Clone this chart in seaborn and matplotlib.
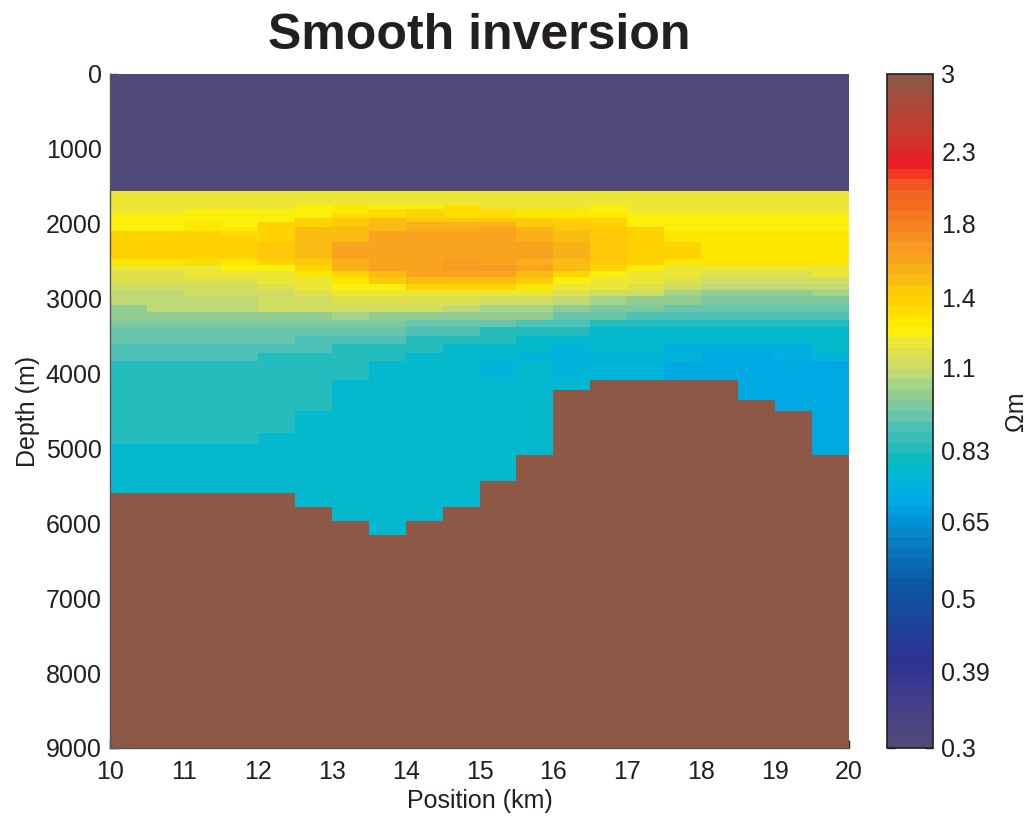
import numpy as np
import matplotlib
matplotlib.use("Agg")
import matplotlib.pyplot as plt
import seaborn as sns
from matplotlib.colors import LinearSegmentedColormap

# Model mesh: 20 columns of 0.5 km between 10 and 20 km
position_ticks_km = [10, 11, 12, 13, 14, 15, 16, 17, 18, 19, 20]
depth_ticks_m = [0, 1000, 2000, 3000, 4000, 5000, 6000, 7000, 8000, 9000]

# layer edges (m), water on top, basement at the bottom
depth_edges_m = [0, 1560, 1700, 1750, 1800, 1850, 1920, 1985, 2040, 2105, 2170,
                 2240, 2350, 2470, 2550, 2630, 2710, 2800, 2885, 2975, 3080,
                 3180, 3280, 3380, 3500, 3605, 3725, 3830, 3965, 4085, 4220,
                 4350, 4500, 4645, 4795, 4940, 5095, 5260, 5435, 5605, 5780,
                 5970, 6165, 9000]

# resistivity (ohm-m) per layer (rows) and column (left to right)
rho = [
    [0.30, 0.30, 0.30, 0.30, 0.30, 0.30, 0.30, 0.30, 0.30, 0.30, 0.30, 0.30, 0.30, 0.30, 0.30, 0.30, 0.30, 0.30, 0.30, 0.30],
    [1.19, 1.19, 1.19, 1.19, 1.19, 1.19, 1.19, 1.19, 1.19, 1.19, 1.19, 1.19, 1.19, 1.19, 1.19, 1.19, 1.19, 1.19, 1.19, 1.19],
    [1.20, 1.20, 1.20, 1.20, 1.22, 1.22, 1.22, 1.22, 1.22, 1.22, 1.22, 1.22, 1.22, 1.22, 1.19, 1.19, 1.19, 1.19, 1.19, 1.19],
    [1.22, 1.22, 1.22, 1.22, 1.22, 1.23, 1.31, 1.26, 1.26, 1.33, 1.22, 1.22, 1.22, 1.24, 1.22, 1.22, 1.22, 1.22, 1.22, 1.22],
    [1.22, 1.22, 1.24, 1.24, 1.26, 1.26, 1.31, 1.34, 1.36, 1.33, 1.33, 1.30, 1.30, 1.24, 1.22, 1.22, 1.22, 1.22, 1.22, 1.22],
    [1.26, 1.26, 1.26, 1.26, 1.26, 1.26, 1.34, 1.34, 1.36, 1.33, 1.33, 1.30, 1.30, 1.31, 1.26, 1.26, 1.26, 1.26, 1.26, 1.26],
    [1.26, 1.26, 1.26, 1.26, 1.26, 1.36, 1.45, 1.47, 1.46, 1.45, 1.45, 1.45, 1.37, 1.37, 1.26, 1.26, 1.26, 1.26, 1.26, 1.26],
    [1.26, 1.26, 1.28, 1.26, 1.36, 1.36, 1.45, 1.47, 1.55, 1.55, 1.55, 1.45, 1.45, 1.37, 1.26, 1.26, 1.26, 1.26, 1.26, 1.26],
    [1.26, 1.26, 1.31, 1.31, 1.36, 1.47, 1.50, 1.47, 1.55, 1.55, 1.60, 1.55, 1.45, 1.45, 1.38, 1.26, 1.26, 1.26, 1.26, 1.26],
    [1.36, 1.36, 1.36, 1.33, 1.40, 1.47, 1.50, 1.59, 1.60, 1.60, 1.60, 1.55, 1.50, 1.45, 1.38, 1.31, 1.31, 1.31, 1.31, 1.31],
    [1.36, 1.36, 1.36, 1.40, 1.40, 1.47, 1.50, 1.59, 1.60, 1.60, 1.60, 1.55, 1.50, 1.45, 1.38, 1.31, 1.31, 1.31, 1.31, 1.31],
    [1.36, 1.36, 1.40, 1.40, 1.45, 1.50, 1.58, 1.59, 1.60, 1.60, 1.60, 1.60, 1.55, 1.45, 1.38, 1.36, 1.31, 1.31, 1.31, 1.31],
    [1.36, 1.36, 1.40, 1.40, 1.45, 1.50, 1.58, 1.59, 1.60, 1.60, 1.60, 1.58, 1.53, 1.45, 1.38, 1.36, 1.31, 1.31, 1.31, 1.31],
    [1.28, 1.30, 1.33, 1.28, 1.37, 1.45, 1.54, 1.59, 1.60, 1.65, 1.62, 1.55, 1.50, 1.45, 1.38, 1.28, 1.27, 1.27, 1.27, 1.27],
    [1.19, 1.19, 1.20, 1.24, 1.26, 1.40, 1.54, 1.59, 1.60, 1.68, 1.68, 1.60, 1.47, 1.38, 1.26, 1.22, 1.19, 1.19, 1.22, 1.22],
    [1.16, 1.16, 1.19, 1.20, 1.22, 1.31, 1.40, 1.50, 1.60, 1.60, 1.60, 1.50, 1.36, 1.26, 1.22, 1.19, 1.14, 1.14, 1.14, 1.19],
    [1.14, 1.14, 1.15, 1.17, 1.20, 1.22, 1.31, 1.45, 1.48, 1.50, 1.50, 1.45, 1.26, 1.22, 1.19, 1.14, 1.11, 1.11, 1.11, 1.11],
    [1.11, 1.11, 1.12, 1.13, 1.14, 1.19, 1.26, 1.26, 1.36, 1.37, 1.38, 1.30, 1.20, 1.19, 1.14, 1.11, 1.07, 1.07, 1.08, 1.08],
    [1.07, 1.09, 1.10, 1.11, 1.12, 1.14, 1.22, 1.22, 1.22, 1.22, 1.22, 1.19, 1.14, 1.12, 1.11, 1.04, 1.00, 1.00, 1.00, 1.05],
    [1.07, 1.07, 1.08, 1.08, 1.11, 1.11, 1.15, 1.15, 1.15, 1.14, 1.12, 1.12, 1.07, 1.04, 1.00, 1.00, 0.97, 0.97, 0.97, 0.97],
    [1.01, 1.06, 1.06, 1.06, 1.10, 1.10, 1.11, 1.11, 1.11, 1.06, 1.04, 1.04, 1.00, 0.97, 0.97, 0.94, 0.94, 0.94, 0.94, 0.94],
    [1.00, 1.00, 1.00, 1.00, 1.00, 1.00, 1.04, 1.00, 1.00, 1.00, 0.99, 0.99, 0.94, 0.94, 0.91, 0.91, 0.91, 0.91, 0.91, 0.91],
    [0.97, 0.97, 0.97, 0.97, 0.97, 0.97, 0.97, 0.97, 0.94, 0.94, 0.94, 0.91, 0.91, 0.85, 0.85, 0.85, 0.85, 0.85, 0.85, 0.85],
    [0.94, 0.94, 0.94, 0.94, 0.94, 0.94, 0.94, 0.94, 0.91, 0.91, 0.85, 0.85, 0.85, 0.79, 0.79, 0.79, 0.79, 0.79, 0.79, 0.79],
    [0.94, 0.94, 0.94, 0.94, 0.94, 0.91, 0.91, 0.91, 0.85, 0.85, 0.85, 0.79, 0.79, 0.79, 0.79, 0.79, 0.79, 0.79, 0.79, 0.79],
    [0.91, 0.91, 0.91, 0.91, 0.91, 0.91, 0.85, 0.85, 0.85, 0.79, 0.79, 0.79, 0.74, 0.79, 0.79, 0.72, 0.72, 0.72, 0.72, 0.78],
    [0.91, 0.91, 0.91, 0.91, 0.85, 0.85, 0.85, 0.85, 0.79, 0.79, 0.79, 0.74, 0.74, 0.74, 0.74, 0.74, 0.70, 0.70, 0.72, 0.74],
    [0.85, 0.85, 0.85, 0.85, 0.85, 0.85, 0.85, 0.79, 0.79, 0.79, 0.74, 0.79, 0.74, 0.74, 0.74, 0.71, 0.70, 0.70, 0.71, 0.71],
    [0.85, 0.85, 0.85, 0.85, 0.85, 0.85, 0.85, 0.79, 0.79, 0.79, 0.74, 0.79, 0.74, 0.74, 0.74, 0.71, 0.71, 0.71, 0.71, 0.71],
    [0.85, 0.85, 0.85, 0.85, 0.85, 0.85, 0.79, 0.79, 0.79, 0.79, 0.79, 0.79, 0.79, 3.00, 3.00, 3.00, 3.00, 0.71, 0.71, 0.71],
    [0.85, 0.85, 0.85, 0.85, 0.85, 0.85, 0.79, 0.79, 0.79, 0.79, 0.79, 0.79, 3.00, 3.00, 3.00, 3.00, 3.00, 0.71, 0.71, 0.71],
    [0.85, 0.85, 0.85, 0.85, 0.85, 0.85, 0.79, 0.79, 0.79, 0.79, 0.79, 0.79, 3.00, 3.00, 3.00, 3.00, 3.00, 3.00, 0.71, 0.71],
    [0.85, 0.85, 0.85, 0.85, 0.85, 0.79, 0.79, 0.79, 0.79, 0.79, 0.79, 0.79, 3.00, 3.00, 3.00, 3.00, 3.00, 3.00, 3.00, 0.71],
    [0.85, 0.85, 0.85, 0.85, 0.85, 0.79, 0.79, 0.79, 0.79, 0.79, 0.79, 0.79, 3.00, 3.00, 3.00, 3.00, 3.00, 3.00, 3.00, 0.71],
    [0.85, 0.85, 0.85, 0.85, 0.79, 0.79, 0.79, 0.79, 0.79, 0.79, 0.79, 0.79, 3.00, 3.00, 3.00, 3.00, 3.00, 3.00, 3.00, 0.71],
    [0.79, 0.79, 0.79, 0.79, 0.79, 0.79, 0.79, 0.79, 0.79, 0.79, 0.79, 0.79, 3.00, 3.00, 3.00, 3.00, 3.00, 3.00, 3.00, 0.71],
    [0.79, 0.79, 0.79, 0.79, 0.79, 0.79, 0.79, 0.79, 0.79, 0.79, 0.79, 3.00, 3.00, 3.00, 3.00, 3.00, 3.00, 3.00, 3.00, 3.00],
    [0.79, 0.79, 0.79, 0.79, 0.79, 0.79, 0.79, 0.79, 0.79, 0.79, 0.79, 3.00, 3.00, 3.00, 3.00, 3.00, 3.00, 3.00, 3.00, 3.00],
    [0.79, 0.79, 0.79, 0.79, 0.79, 0.79, 0.79, 0.79, 0.79, 0.79, 3.00, 3.00, 3.00, 3.00, 3.00, 3.00, 3.00, 3.00, 3.00, 3.00],
    [3.00, 3.00, 3.00, 3.00, 3.00, 0.79, 0.79, 0.79, 0.79, 0.79, 3.00, 3.00, 3.00, 3.00, 3.00, 3.00, 3.00, 3.00, 3.00, 3.00],
    [3.00, 3.00, 3.00, 3.00, 3.00, 3.00, 0.79, 0.79, 0.79, 3.00, 3.00, 3.00, 3.00, 3.00, 3.00, 3.00, 3.00, 3.00, 3.00, 3.00],
    [3.00, 3.00, 3.00, 3.00, 3.00, 3.00, 3.00, 0.79, 3.00, 3.00, 3.00, 3.00, 3.00, 3.00, 3.00, 3.00, 3.00, 3.00, 3.00, 3.00],
    [3.00, 3.00, 3.00, 3.00, 3.00, 3.00, 3.00, 3.00, 3.00, 3.00, 3.00, 3.00, 3.00, 3.00, 3.00, 3.00, 3.00, 3.00, 3.00, 3.00],
]

cbar_ticks = [0.3, 0.39, 0.5, 0.65, 0.83, 1.1, 1.4, 1.8, 2.3, 3]
cbar_labels = ["0.3", "0.39", "0.5", "0.65", "0.83", "1.1", "1.4", "1.8", "2.3", "3"]

# colormap anchors (fraction of log range, colour)
cmap_pos = [0.000, 0.060, 0.120, 0.180, 0.240, 0.300, 0.350, 0.375, 0.395, 0.420,
            0.452, 0.482, 0.496, 0.510, 0.523, 0.540, 0.552, 0.568, 0.580, 0.598,
            0.609, 0.623, 0.640, 0.656, 0.669, 0.684, 0.699, 0.713, 0.727, 0.748,
            0.780, 0.840, 0.870, 0.920, 1.000]
cmap_cols = ["#504a78", "#45408a", "#2e3192", "#1e4399", "#0b58a4", "#0a7cc2",
             "#009fdc", "#00afe6", "#00b4dc", "#05b9c7", "#2ebdb9", "#55c2b4",
             "#6ec6aa", "#80c89a", "#92cc90", "#a6d38a", "#bcd87a", "#cadc68",
             "#dadf55", "#e6e43f", "#f2e82a", "#fff200", "#ffe400", "#ffda00",
             "#ffd200", "#fdc80a", "#fbbb12", "#fab218", "#f9a61e", "#f79a22",
             "#f58220", "#f15a22", "#ed1c24", "#c73a2e", "#8e5846"]
cmap = LinearSegmentedColormap.from_list("resist", list(zip(cmap_pos, cmap_cols)), N=64)

sns.set_theme(style="white")
plt.rcParams['font.family'] = ['Liberation Sans', 'DejaVu Sans']
plt.rcParams['text.color'] = '#231f20'
plt.rcParams['axes.labelcolor'] = '#231f20'

# put the layered model on a regular 10 m grid for the heatmap
rho_arr = np.array(rho)
depth_centres = np.arange(5, 9000, 10)
layer_idx = np.searchsorted(depth_edges_m, depth_centres, side='right') - 1
grid = np.log10(rho_arr[layer_idx, :])

vmin, vmax = np.log10(0.3), np.log10(3.0)

fig = plt.figure(figsize=(10.28, 8.19), dpi=100)
ax = fig.add_axes([0.1070, 0.0867, 0.7189, 0.8230])
cax = fig.add_axes([0.8628, 0.0867, 0.0448, 0.8230])

sns.heatmap(grid, cmap=cmap, vmin=vmin, vmax=vmax, ax=ax, cbar_ax=cax,
            xticklabels=False, yticklabels=False, linewidths=0)

n_cols = rho_arr.shape[1]
ax.set_xticks(np.linspace(0, n_cols, len(position_ticks_km)))
ax.set_xticklabels([str(p) for p in position_ticks_km], rotation=0)
ax.set_yticks(np.linspace(0, len(depth_centres), len(depth_ticks_m)))
ax.set_yticklabels([str(d) for d in depth_ticks_m], rotation=0)
ax.tick_params(axis='both', direction='in', length=6, width=1, colors='#231f20',
               labelsize=18, pad=6, bottom=True, left=True)
ax.tick_params(axis='x', pad=9)
ax.set_xlabel('Position (km)', fontsize=18, labelpad=3)
ax.set_ylabel('Depth (m)', fontsize=18, labelpad=4)
ax.set_title('Smooth inversion', fontsize=36, fontweight='bold', pad=18)

for s in ['top', 'right']:
    ax.spines[s].set_visible(False)
for s in ['left', 'bottom']:
    ax.spines[s].set_visible(True)
    ax.spines[s].set_color('#555555')
    ax.spines[s].set_linewidth(1)

cbar = ax.collections[0].colorbar
cbar.set_ticks(np.log10(cbar_ticks))
cbar.set_ticklabels(cbar_labels)
cbar.outline.set_visible(True)
cbar.outline.set_linewidth(1.2)
cbar.outline.set_edgecolor('#231f20')
cax.tick_params(direction='in', length=6, width=1, left=True, right=True,
                labelsize=18, colors='#231f20', pad=6)
cbar.set_label('Ωm', fontsize=18, labelpad=10)

fig.savefig('out.png', dpi=100)
